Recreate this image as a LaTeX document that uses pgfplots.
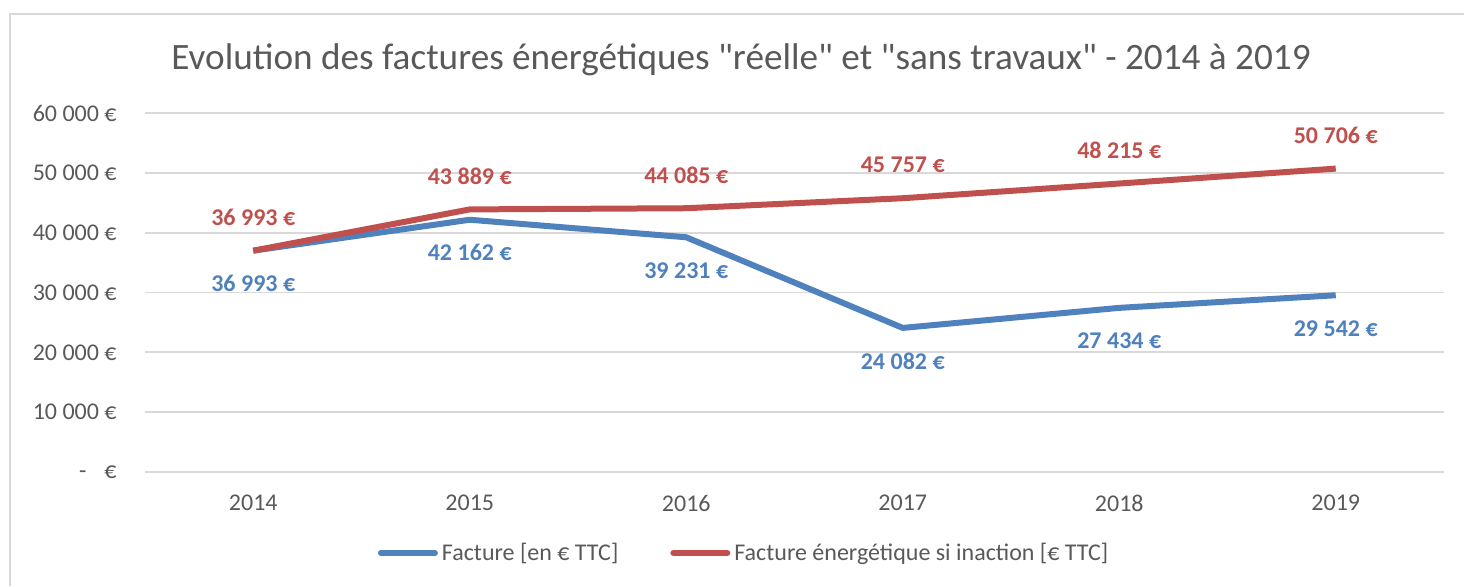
\documentclass[border=0pt]{standalone}
\usepackage{pgfplots}
\pgfplotsset{compat=1.18}
\usepackage{fontspec}
\setmainfont{Carlito}[Ligatures=TeXOff]
\definecolor{cblue}{HTML}{4F81BD}
\definecolor{cred}{HTML}{C0504D}
\definecolor{ctxt}{HTML}{595959}
\definecolor{cgrid}{HTML}{D9D9D9}
\pgfplotstableread{
x y
0 36993
1 42162
2 39231
3 24082
4 27434
5 29542
}\tblue
\pgfplotstableread{
x y
0 36993
1 43889
2 44085
3 45757
4 48215
5 50706
}\tred
\begin{document}
\begin{tikzpicture}
\useasboundingbox (0,0) rectangle (732pt,293pt);
\draw[cgrid, line width=0.8pt] (5pt,0pt) -- (5pt,286pt) -- (732pt,286pt);
\node[text=ctxt, font=\fontsize{18.6}{22}\selectfont, anchor=center] at (370.5pt,263pt) {Evolution des factures énergétiques "réelle" et "sans travaux" - 2014 à 2019};
\begin{axis}[
  at={(72.5pt,57pt)}, anchor=south west,
  width=649.5pt, height=179.5pt, scale only axis,
  xmin=-0.5, xmax=5.5, ymin=0, ymax=60000,
  axis line style={draw=none},
  scaled y ticks=false,
  ymajorgrids, grid style={cgrid, line width=0.9pt},
  xtick={0,1,2,3,4,5},
  xticklabels={2014,2015,2016,2017,2018,2019},
  ytick={0,10000,20000,30000,40000,50000,60000},
  yticklabels={{-\hspace{0.75em}€},{10 000 €},{20 000 €},{30 000 €},{40 000 €},{50 000 €},{60 000 €}},
  major tick length=0pt,
  xticklabel style={anchor=center, yshift=-15.5pt, text=ctxt, font=\fontsize{12}{14}\selectfont},
  yticklabel style={anchor=east, inner sep=0pt, xshift=-14pt, text=ctxt, font=\fontsize{12}{14}\selectfont},
  /pgf/number format/assume math mode=true,
  clip=false,
  nodes near coords={\pgfmathprintnumber[fixed,precision=0,1000 sep={\ }]{\pgfplotspointmeta}~€},
  point meta=y,
  legend columns=2,
  legend style={draw=none, at={(0.462,-0.2256)}, anchor=center, font=\fontsize{12}{14}\selectfont, text=ctxt,
    /tikz/every even column/.append style={column sep=24pt}, inner xsep=0pt},
  legend image code/.code={\draw[#1, line width=3pt, line cap=round] (0pt,0pt) -- (27pt,0pt);},
]
\addplot[cblue, line width=3pt, line join=round, mark=none,
  every node near coord/.append style={anchor=center, yshift=-16.5pt, text=cblue, font=\fontsize{12}{14}\selectfont\bfseries}]
  table[x=x,y=y] {\tblue};
\addlegendentry{Facture [en € TTC]}
\addplot[cred, line width=3pt, line join=round, mark=none,
  every node near coord/.append style={anchor=center, yshift=16.5pt, text=cred, font=\fontsize{12}{14}\selectfont\bfseries}]
  table[x=x,y=y] {\tred};
\addlegendentry{Facture énergétique si inaction [€ TTC]}
\end{axis}
\end{tikzpicture}
\end{document}
